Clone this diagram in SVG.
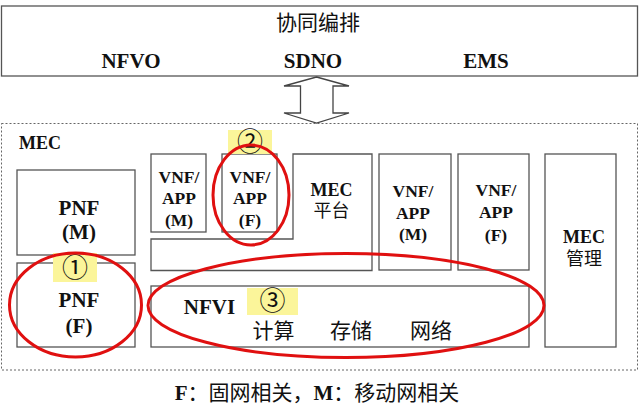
<svg xmlns="http://www.w3.org/2000/svg" width="640" height="418" viewBox="0 0 640 418">
<style>
.box{fill:#fff;stroke:#555;stroke-width:1.3}
.en{font-family:"Liberation Serif","Times New Roman",serif;font-weight:bold;fill:#111;text-anchor:middle}
.lbl{font-family:"Liberation Serif","Times New Roman",serif;font-weight:bold;fill:#111;text-anchor:start}
.zh{font-family:"Liberation Serif","Noto Sans CJK SC",sans-serif;fill:#111;text-anchor:middle}
.hl{fill:#fbf59a;stroke:none}
.num{font-family:"Noto Sans CJK SC","DejaVu Sans",sans-serif;font-size:26px;fill:#111;text-anchor:middle}
.ring{fill:none;stroke:#e01010;stroke-width:3}
</style>
<rect width="640" height="418" fill="#fff"/>
<g id="orchestration">
<rect class="box" x="1.5" y="6" width="636" height="70"/>
<text class="zh" x="318" y="30" font-size="21">协同编排</text>
<text class="en" x="131" y="68" font-size="21">NFVO</text>
<text class="en" x="313" y="68" font-size="21">SDNO</text>
<text class="en" x="486" y="68" font-size="21">EMS</text>
</g>
<g id="connectors">
<polygon points="316.5,77 349,86 333,86 333,113 349,113 316.5,123 284,113 300.5,113 300.5,86 284,86" fill="#fff" stroke="#444" stroke-width="1.3"/>
</g>
<g id="mec">
<rect x="1.5" y="123.5" width="636" height="246.5" fill="none" stroke="#666" stroke-width="1" stroke-dasharray="2,2"/>
<text class="lbl" x="19" y="149" font-size="18">MEC</text>
</g>
<g id="pnf-m">
<rect class="box" x="17" y="170" width="118" height="85"/>
<text class="en" x="79" y="215" font-size="21">PNF</text>
<text class="en" x="79" y="239" font-size="21">(M)</text>
</g>
<g id="pnf-f">
<rect class="box" x="17" y="263" width="118" height="84"/>
<text class="en" x="79" y="307" font-size="21">PNF</text>
<text class="en" x="79" y="333" font-size="21">(F)</text>
</g>
<g id="vnf1">
<rect class="box" x="151" y="154" width="55" height="78"/>
<text class="en" x="179" y="183" font-size="17.5">VNF/</text>
<text class="en" x="179" y="204" font-size="17.5">APP</text>
<text class="en" x="179" y="226" font-size="17.5">(M)</text>
</g>
<g id="vnf2">
<rect class="box" x="222" y="154" width="55" height="78"/>
<text class="en" x="250" y="183" font-size="17.5">VNF/</text>
<text class="en" x="250" y="204" font-size="17.5">APP</text>
<text class="en" x="250" y="226" font-size="17.5">(F)</text>
</g>
<g id="mec-platform">
<path class="box" d="M151,239 H293 V154 H372 V270.5 H151 Z"/>
<text class="en" x="331.5" y="196" font-size="18">MEC</text>
<text class="zh" x="331.5" y="217" font-size="18">平台</text>
</g>
<g id="vnf3">
<rect class="box" x="379" y="154" width="72" height="116"/>
<text class="en" x="413" y="197" font-size="17.5">VNF/</text>
<text class="en" x="413" y="219" font-size="17.5">APP</text>
<text class="en" x="413" y="240" font-size="17.5">(M)</text>
</g>
<g id="vnf4">
<rect class="box" x="458" y="154" width="71" height="116"/>
<text class="en" x="496" y="196" font-size="17.5">VNF/</text>
<text class="en" x="496" y="218" font-size="17.5">APP</text>
<text class="en" x="496" y="241" font-size="17.5">(F)</text>
</g>
<g id="mec-mgmt">
<rect class="box" x="545" y="154" width="71" height="193"/>
<text class="en" x="584" y="243" font-size="18">MEC</text>
<text class="zh" x="584" y="265" font-size="18">管理</text>
</g>
<g id="nfvi">
<rect class="box" x="151" y="286" width="378" height="61"/>
<text class="en" x="209.5" y="314" font-size="21">NFVI</text>
<text class="zh" x="273.5" y="338" font-size="21">计算</text>
<text class="zh" x="351" y="338" font-size="21">存储</text>
<text class="zh" x="431" y="338" font-size="21">网络</text>
</g>
<g id="mark1">
<rect class="hl" x="53" y="253" width="44" height="29"/>
<text class="num" x="75" y="277">①</text>
<ellipse class="ring" cx="75.5" cy="305" rx="66" ry="52"/>
</g>
<g id="mark2">
<rect class="hl" x="228" y="130" width="44" height="24"/>
<text class="num" x="250" y="151">②</text>
<ellipse class="ring" cx="251" cy="195" rx="38" ry="50"/>
</g>
<g id="mark3">
<rect class="hl" x="247" y="288" width="51" height="27"/>
<text class="num" x="272.5" y="310">③</text>
<ellipse class="ring" cx="346" cy="305.5" rx="198" ry="52"/>
</g>
<g id="caption">
<text x="317" y="400" font-size="21" fill="#111" text-anchor="middle" font-family="Liberation Serif,Noto Sans CJK SC,serif"><tspan font-weight="bold">F</tspan><tspan font-family="Noto Sans CJK SC,sans-serif">：固网相关，</tspan><tspan font-weight="bold">M</tspan><tspan font-family="Noto Sans CJK SC,sans-serif">：移动网相关</tspan></text>
</g>
</svg>
